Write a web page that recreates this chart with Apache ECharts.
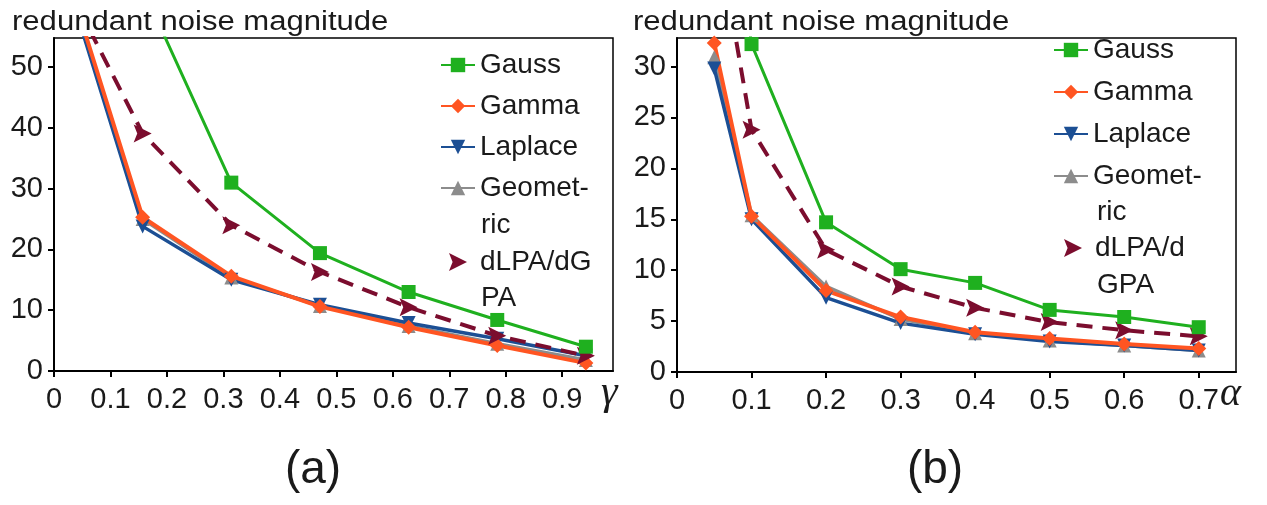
<!DOCTYPE html>
<html>
<head>
<meta charset="utf-8">
<script src="https://cdn.jsdelivr.net/npm/echarts@6/dist/echarts.min.js"></script>
<style>
  html, body { margin: 0; padding: 0; background: #fff; }
  #chart { width: 1267px; height: 505px; }
</style>
</head>
<body>
<div id="chart"></div>
<script>
// (a) noise vs gamma
var xA = [0, 0.157, 0.314, 0.471, 0.628, 0.785, 0.942];
var gaussA = [95, 63, 31, 19.4, 13.0, 8.4, 4.0];
var gammaA = [72, 25.3, 15.6, 10.6, 7.2, 4.2, 1.3];
var laplaceA = [71, 23.8, 15.0, 10.9, 7.9, 5.3, 2.5];
var geomA = [71.5, 25.0, 15.4, 10.7, 7.4, 4.5, 1.8];
var dlpaA = [67.6, 39.1, 24.0, 16.3, 10.5, 5.8, 2.5];
var xTicksA = [0, 0.1, 0.2, 0.3, 0.4, 0.5, 0.6, 0.7, 0.8, 0.9];
var yTicksA = [0, 10, 20, 30, 40, 50];

// (b) noise vs alpha
var xB = [0.05, 0.1, 0.2, 0.3, 0.4, 0.5, 0.6, 0.7];
var gaussB = [60, 32.2, 14.7, 10.1, 8.75, 6.1, 5.4, 4.4];
var gammaB = [32.3, 15.3, 8.0, 5.4, 3.9, 3.3, 2.75, 2.3];
var laplaceB = [29.8, 15.0, 7.3, 4.8, 3.7, 3.0, 2.6, 2.1];
var geomB = [30.9, 15.4, 8.4, 5.2, 3.8, 3.1, 2.6, 2.1];
var dlpaB = [45, 23.8, 12.0, 8.4, 6.3, 4.9, 4.1, 3.5];
var xTicksB = [0, 0.1, 0.2, 0.3, 0.4, 0.5, 0.6, 0.7];
var yTicksB = [0, 5, 10, 15, 20, 25, 30];

var arrow = 'path://M0,0 L10,5 L0,10 L2,5 Z';
var font = '"Liberation Sans", Arial, sans-serif';

function pairs(xs, ys) {
    return xs.map(function(x, i) { return [x, ys[i]]; });
}

var styles = {
    'Gauss':     { color: '#1fb01f', symbol: 'rect', size: 14, width: 3 },
    'Gamma':     { color: '#ff5522', symbol: 'diamond', size: 15, width: 4 },
    'Laplace':   { color: '#1c4f94', symbol: 'triangle', size: 14, width: 3.5, rotate: 180 },
    'Geometric': { color: '#8c8c8c', symbol: 'triangle', size: 14, width: 3.5 },
    'dLPA':      { color: '#7b0d2e', symbol: arrow, size: 18, width: 4, dash: [16, 10] }
};

function makeSeries(name, xs, ys, idx) {
    var s = styles[name];
    return {
        name: name,
        type: 'line',
        xAxisIndex: idx,
        yAxisIndex: idx,
        data: pairs(xs, ys),
        symbol: s.symbol,
        symbolSize: s.size,
        symbolRotate: s.rotate || 0,
        showAllSymbol: true,
        clip: true,
        color: s.color,
        lineStyle: { color: s.color, width: s.width, type: s.dash || 'solid' },
        itemStyle: { color: s.color },
        animation: false
    };
}

function xAxis(idx, max, ticks) {
    return {
        type: 'value', gridIndex: idx, min: 0, max: max,
        axisLine: { show: true, lineStyle: { color: '#000', width: 2 } },
        axisTick: { show: true, length: 6, lineStyle: { color: '#000', width: 2 }, customValues: ticks },
        axisLabel: { customValues: ticks, fontSize: 29, fontFamily: font, color: '#1a1a1a', margin: 14 },
        splitLine: { show: false }
    };
}

function yAxis(idx, max, ticks) {
    return {
        type: 'value', gridIndex: idx, min: 0, max: max,
        axisLine: { show: true, lineStyle: { color: '#000', width: 2 } },
        axisTick: { show: true, length: 6, lineStyle: { color: '#000', width: 2 }, customValues: ticks },
        axisLabel: { customValues: ticks, fontSize: 29, fontFamily: font, color: '#1a1a1a', margin: 11 },
        splitLine: { show: false }
    };
}

function legend(left, top, gap, names, right) {
    return {
        orient: 'vertical', left: left, top: top, padding: 0,
        itemWidth: 34, itemHeight: 18, itemGap: gap,
        textStyle: { fontSize: 28, fontFamily: font, color: '#1a1a1a', lineHeight: 32 },
        selectedMode: false,
        data: names.map(function(n) {
            return n === 'dLPA' ? { name: n, icon: arrow } : { name: n };
        }),
        formatter: function(n) {
            if (n === 'Geometric') return 'Geomet-';
            if (n === 'dLPA') return right ? 'dLPA/d' : 'dLPA/dG';
            return n;
        }
    };
}

function label(text, x, y, size, extra, scaleX) {
    var st = { text: text, fontSize: size, fontFamily: font, fill: '#1a1a1a' };
    for (var k in extra) st[k] = extra[k];
    return { type: 'text', x: x, y: y, scaleX: scaleX || 1, style: st };
}

var chart = echarts.init(document.getElementById('chart'));
chart.setOption({
    backgroundColor: '#fff',
    animation: false,
    grid: [
        { left: 54, top: 38, width: 559, height: 333, show: true, borderColor: '#000', borderWidth: 1.5 },
        { left: 677, top: 38, width: 559, height: 334, show: true, borderColor: '#000', borderWidth: 1.5 }
    ],
    xAxis: [xAxis(0, 0.99, xTicksA), xAxis(1, 0.75, xTicksB)],
    yAxis: [yAxis(0, 54.8, yTicksA), yAxis(1, 32.8, yTicksB)],
    legend: [
        legend(440, 49, 9, ['Gauss', 'Gamma', 'Laplace', 'Geometric']),
        legend(449, 246, 9, ['dLPA']),
        legend(1053, 34, 10, ['Gauss', 'Gamma', 'Laplace', 'Geometric'], true),
        legend(1064, 232, 10, ['dLPA'], true)
    ],
    graphic: [
        label('redundant noise magnitude', 12, 9, 27, {}, 1.15),
        label('redundant noise magnitude', 633, 9, 27, {}, 1.15),
        label('ric', 481, 225, 28, { verticalAlign: 'middle' }),
        label('PA', 481, 298, 28, { verticalAlign: 'middle' }),
        label('ric', 1097, 212, 28, { verticalAlign: 'middle' }),
        label('GPA', 1097, 285, 28, { verticalAlign: 'middle' }),
        label('\u03b3', 601, 372, 42, { fontFamily: '"Liberation Serif", serif', fontStyle: 'italic' }),
        label('\u03b1', 1220, 374, 40, { fontFamily: '"Liberation Serif", serif', fontStyle: 'italic' }),
        label('(a)', 313, 470, 46, { align: 'center', verticalAlign: 'middle' }),
        label('(b)', 935, 470, 46, { align: 'center', verticalAlign: 'middle' })
    ],
    series: [
        makeSeries('Geometric', xA, geomA, 0),
        makeSeries('Laplace', xA, laplaceA, 0),
        makeSeries('Gamma', xA, gammaA, 0),
        makeSeries('dLPA', xA, dlpaA, 0),
        makeSeries('Gauss', xA, gaussA, 0),
        makeSeries('Geometric', xB, geomB, 1),
        makeSeries('Laplace', xB, laplaceB, 1),
        makeSeries('Gamma', xB, gammaB, 1),
        makeSeries('dLPA', xB, dlpaB, 1),
        makeSeries('Gauss', xB, gaussB, 1)
    ]
});
</script>
</body>
</html>
